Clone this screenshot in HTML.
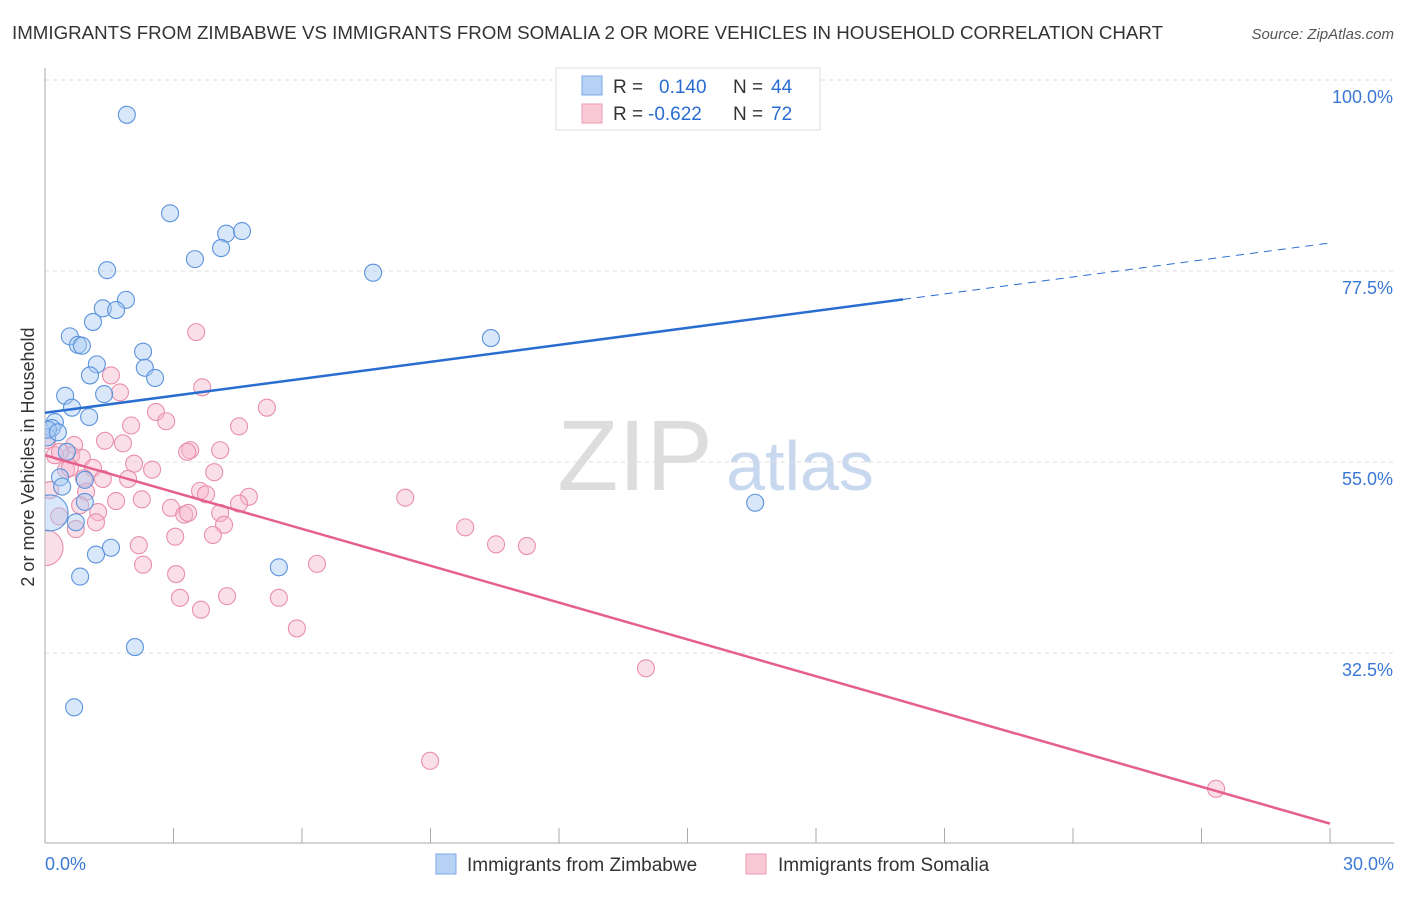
<!DOCTYPE html>
<html><head><meta charset="utf-8">
<style>
body{margin:0;background:#fff;font-family:"Liberation Sans",sans-serif;}
svg text{font-family:"Liberation Sans",sans-serif;}
</style></head>
<body>
<svg id="chart" width="1406" height="892" xmlns="http://www.w3.org/2000/svg">
<defs><clipPath id="plotclip"><rect x="45" y="60" width="1360" height="783"/></clipPath></defs>
<text x="12" y="39" font-size="18" fill="#333" textLength="1151" lengthAdjust="spacingAndGlyphs">IMMIGRANTS FROM ZIMBABWE VS IMMIGRANTS FROM SOMALIA 2 OR MORE VEHICLES IN HOUSEHOLD CORRELATION CHART</text>
<text x="1394" y="39" font-size="15" fill="#555" font-style="italic" text-anchor="end">Source: ZipAtlas.com</text>
<text transform="translate(34,457) rotate(-90)" font-size="18" fill="#333" text-anchor="middle">2 or more Vehicles in Household</text>
<g><text x="635" y="490" font-size="100" fill="#ddd" font-family="Liberation Serif" text-anchor="middle">ZIP</text><text x="800" y="490" font-size="70" fill="#c8d8ee" text-anchor="middle">atlas</text></g>
<g id="grid"></g><g id="marks" clip-path="url(#plotclip)"></g>
<g>
<rect x="556" y="68" width="264" height="62" fill="#fff" stroke="#ddd"/>
<rect x="582" y="76" width="20" height="19" fill="#b7d2f4" stroke="#7aa9e6"/>
<rect x="582" y="104" width="20" height="19" fill="#f9c9d6" stroke="#ee9ab1"/>
<text x="613" y="93" font-size="19" fill="#333">R =</text><text x="659" y="93" font-size="19" fill="#2a6dd1">0.140</text>
<text x="733" y="93" font-size="19" fill="#333">N =</text><text x="771" y="93" font-size="19" fill="#2a6dd1">44</text>
<text x="613" y="120" font-size="19" fill="#333">R =</text><text x="648" y="120" font-size="19" fill="#2a6dd1">-0.622</text>
<text x="733" y="120" font-size="19" fill="#333">N =</text><text x="771" y="120" font-size="19" fill="#2a6dd1">72</text>
</g>
<g>
<rect x="436" y="854" width="20" height="20" fill="#b7d2f4" stroke="#7aa9e6"/>
<text x="467" y="871" font-size="19" fill="#333">Immigrants from Zimbabwe</text>
<rect x="746" y="854" width="20" height="20" fill="#f9c9d6" stroke="#ee9ab1"/>
<text x="778" y="871" font-size="19" fill="#333">Immigrants from Somalia</text>
</g>
</svg>
<script>
const xTicks=[0,3,6,9,12,15,18,21,24,27,30];
const yTicks=[100,77.5,55,32.5];
const yTickLabels=["100.0%","77.5%","55.0%","32.5%"];
const blueX=[1.91,2.92,4.23,4.60,3.50,4.11,1.45,7.66,1.89,1.35,1.66,1.12,0.58,0.77,0.86,2.29,1.21,2.33,1.05,2.57,0.47,1.38,0.63,1.03,0.23,0.16,0.05,0.51,0.35,0.93,0.40,0.93,0.72,1.54,1.19,0.82,5.46,2.10,0.68,10.41,16.58,0.07,0.30,0.12];
const blueY=[95.9,84.3,81.9,82.2,78.9,80.2,77.6,77.3,74.1,73.1,72.9,71.5,69.8,68.8,68.7,68.0,66.5,66.1,65.2,64.9,62.8,63.0,61.4,60.3,59.7,59.0,57.9,56.2,53.2,52.9,52.1,50.3,47.9,44.9,44.1,41.5,42.6,33.2,26.1,69.6,50.2,58.8,58.5,49.0];
const pinkX=[3.53,1.54,1.75,3.67,5.18,2.59,2.83,2.01,4.53,0.05,0.68,1.40,1.82,3.39,3.32,4.09,0.61,0.86,0.23,3.95,2.50,1.12,2.08,0.49,0.91,1.94,1.35,3.62,3.76,4.76,4.53,8.41,0.96,1.66,2.26,2.94,0.12,0.33,1.24,1.19,0.72,3.25,3.34,4.09,4.18,3.92,3.04,9.81,2.19,2.29,10.53,11.25,6.35,3.06,4.25,3.15,5.46,3.64,5.88,14.03,8.99,27.34,0.0,0.82,0.35,0.58];
const pinkY=[70.3,65.2,63.2,63.8,61.4,60.9,59.8,59.3,59.2,57.6,57.0,57.5,57.2,56.4,56.2,56.4,55.8,55.5,55.8,53.8,54.1,54.3,54.8,54.1,53.1,53.0,53.0,51.6,51.2,50.9,50.1,50.8,51.5,50.4,50.6,49.6,51.7,48.6,49.1,47.9,47.1,48.8,49.0,49.0,47.6,46.4,46.2,47.3,45.2,42.9,45.3,45.1,43.0,41.8,39.2,39.0,39.0,37.6,35.4,30.7,19.8,16.5,44.9,49.9,56.2,54.3];
const blueTrend=[60.8,80.8];
const pinkTrend=[55.8,12.4];
const xs=v=>45+v*(1285/30);
const ys=v=>80+(100-v)*8.489;
const NS="http://www.w3.org/2000/svg";
function mk(tag,attrs,parent){const e=document.createElementNS(NS,tag);for(const k in attrs)e.setAttribute(k,attrs[k]);parent.appendChild(e);return e;}
const grid=document.getElementById('grid'),marks=document.getElementById('marks');
yTicks.forEach((t,i)=>{
 const l=mk('line',{x1:45,x2:1394,y1:ys(t),y2:ys(t),stroke:'#ddd','stroke-dasharray':'4,4'},grid);
 
 
 const tx=mk('text',{x:1393,y:ys(t)+23,'font-size':18,fill:'#3a78d4','text-anchor':'end'},grid);
 tx.textContent=yTickLabels[i];
 
 
});
const ax=mk('line',{x1:45,x2:45,y1:68,y2:843,stroke:'#aaa'},grid);


const bx=mk('line',{x1:45,x2:1394,y1:843,y2:843,stroke:'#aaa'},grid);


xTicks.forEach(t=>{
 const l=mk('line',{x1:xs(t),x2:xs(t),y1:828,y2:843,stroke:'#aaa'},grid);
 
 
});
const xl0=mk('text',{x:45,y:870,'font-size':18,fill:'#3a78d4'},grid);xl0.textContent=xTicks[0].toFixed(1)+'%';


const xl1=mk('text',{x:1394,y:870,'font-size':18,fill:'#3a78d4','text-anchor':'end'},grid);xl1.textContent=xTicks[xTicks.length-1].toFixed(1)+'%';


function dots(X,Y,fill,stroke,name){
 X.forEach((x,i)=>{
  const big=(x<0.15&&((name==='blue-point'&&Y[i]===49.0)||(name==='pink-point'&&Y[i]===44.9)));
  const c=mk('circle',{cx:xs(x),cy:ys(Y[i]),r:big?18:8.5,fill:fill,'fill-opacity':0.45,stroke:stroke,'stroke-width':1.1},marks);
  
  
 });
}
dots(pinkX,pinkY,'#f7b9cb','#e890aa','pink-point');
dots(blueX,blueY,'#a9c9f1','#5b93dc','blue-point');
const bsplit=20.03;
const bAt=v=>blueTrend[0]+(blueTrend[1]-blueTrend[0])*v/30;
const b1=mk('line',{x1:xs(0),y1:ys(bAt(0)),x2:xs(bsplit),y2:ys(bAt(bsplit)),stroke:'#2a6dd1','stroke-width':2.5},marks);


const b2=mk('line',{x1:xs(bsplit),y1:ys(bAt(bsplit)),x2:xs(30),y2:ys(bAt(30)),stroke:'#2a6dd1','stroke-width':1,'stroke-dasharray':'8,6'},marks);


const p1=mk('line',{x1:xs(0),y1:ys(pinkTrend[0]),x2:xs(30),y2:ys(pinkTrend[1]),stroke:'#e5608e','stroke-width':2.5},marks);


</script>
</body></html>
